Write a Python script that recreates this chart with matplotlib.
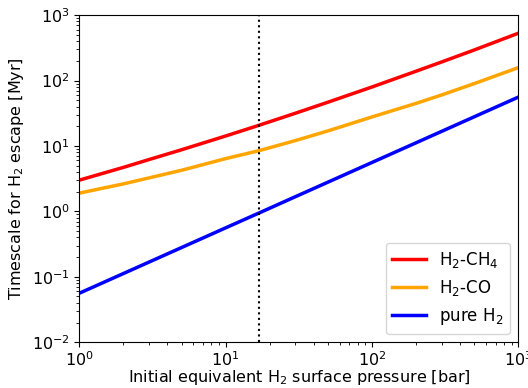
import matplotlib
matplotlib.use("Agg")
import matplotlib.pyplot as plt

# initial equivalent H2 surface pressure [bar]
pressure = [1, 2, 3, 5, 10, 17, 30, 50, 100, 200, 300, 500, 1000]
# escape timescales [Myr]
t_h2_ch4 = [3.0, 4.7, 6.2, 8.75, 14.2, 20.8, 31.7, 46.7, 79.8, 139, 193, 294, 530]
t_h2_co = [1.9, 2.63, 3.25, 4.25, 6.4, 8.5, 12.1, 17.0, 27.8, 44.8, 60.4, 90, 158]
t_pure_h2 = [0.056, 0.112, 0.168, 0.28, 0.56, 0.95, 1.68, 2.8, 5.6, 11.2, 16.8, 28, 56]
p_mark = 16.8

fig = plt.figure(figsize=(5.28, 3.88), dpi=100)
ax = fig.add_axes([0.150, 0.118, 0.832, 0.843])

ax.plot(pressure, t_h2_ch4, color="red", lw=2.5, label="H$_2$-CH$_4$")
ax.plot(pressure, t_h2_co, color="orange", lw=2.5, label="H$_2$-CO")
ax.plot(pressure, t_pure_h2, color="blue", lw=2.5, label="pure H$_2$")
ax.axvline(p_mark, color="black", ls=":", lw=1.5)

ax.set_xscale("log")
ax.set_yscale("log")
ax.set_xlim(1, 1000)
ax.set_ylim(1e-2, 1e3)
ax.tick_params(labelsize=11.5)
ax.tick_params(axis="x", pad=2.5)
ax.set_xlabel("Initial equivalent H$_2$ surface pressure [bar]", fontsize=11.5, labelpad=-1)
ax.set_ylabel("Timescale for H$_2$ escape [Myr]", fontsize=11.5)
ax.legend(loc="lower right", fontsize=12)

fig.savefig("out.png", dpi=100)
